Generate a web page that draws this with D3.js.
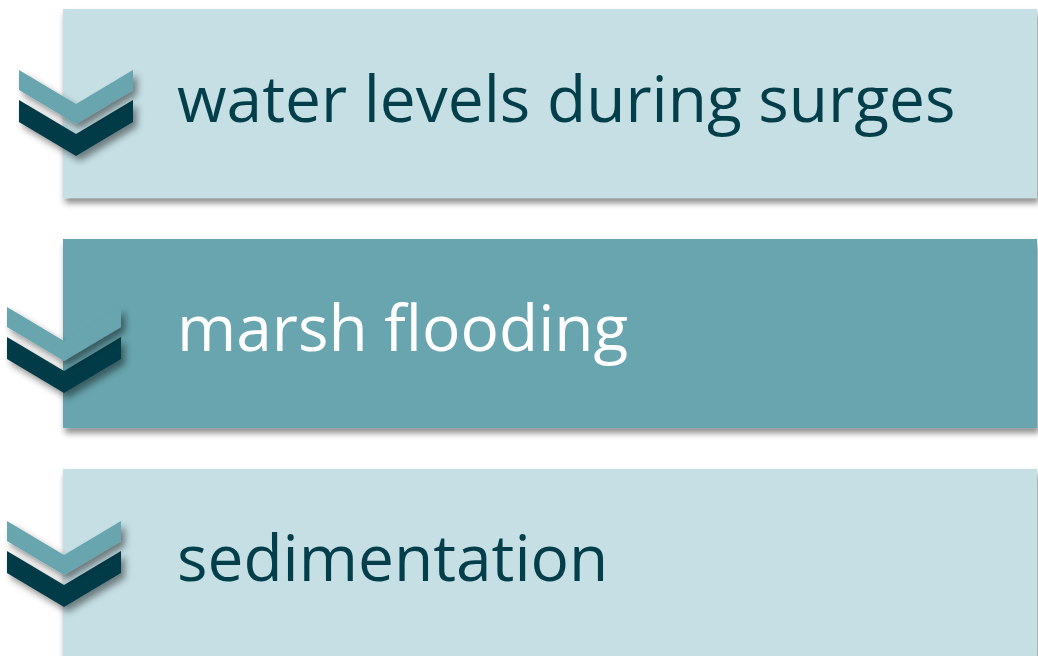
<!DOCTYPE html>
<html>
<head>
<meta charset="utf-8">
<script src="https://cdn.jsdelivr.net/npm/d3@7"></script>
<style>
  html, body { margin: 0; padding: 0; background: #fff; }
  svg { display: block; }
</style>
</head>
<body>
<svg id="chart"></svg>
<script>
'use strict';

// steps of the diagram, top to bottom
const labels = ['water levels during surges', 'marsh flooding', 'sedimentation'];
const boxFills = ['#c5dfe5', '#67a5ae', '#c5dfe5'];
const textFills = ['#033f4a', '#ffffff', '#033f4a'];

const CHEVRON_LIGHT = '#67a5ae';
const CHEVRON_DARK = '#033b46';

const width = 1038, height = 656;
const boxLeft = 63, boxRight = 1037;
// small per-row nudges of the chevron marker (x, y from box top)
const chevronNudge = [[19, 61], [7, 68], [7, 52]];

const svg = d3.select('#chart').attr('width', width).attr('height', height);

const defs = svg.append('defs');
defs.append('filter')
  .attr('id', 'boxShadow')
  .attr('x', '-5%').attr('y', '-10%')
  .attr('width', '110%').attr('height', '130%')
  .append('feDropShadow')
  .attr('dx', 2).attr('dy', 5)
  .attr('stdDeviation', 3)
  .attr('flood-color', '#000')
  .attr('flood-opacity', 0.45);

defs.append('filter')
  .attr('id', 'chevShadow')
  .attr('x', '-20%').attr('y', '-20%')
  .attr('width', '150%').attr('height', '160%')
  .append('feDropShadow')
  .attr('dx', 4).attr('dy', 5)
  .attr('stdDeviation', 3.5)
  .attr('flood-color', '#000')
  .attr('flood-opacity', 0.45);

const y = d3.scaleBand()
  .domain(d3.range(labels.length))
  .range([9, 658])
  .paddingInner(0.178)
  .paddingOuter(0);

const rows = svg.selectAll('g.row')
  .data(labels)
  .enter()
  .append('g')
  .attr('class', 'row')
  .attr('transform', (d, i) => `translate(0,${y(i)})`);

rows.append('rect')
  .attr('x', boxLeft)
  .attr('y', 0)
  .attr('width', boxRight - boxLeft)
  .attr('height', y.bandwidth())
  .attr('fill', (d, i) => boxFills[i])
  .attr('filter', 'url(#boxShadow)');

rows.append('text')
  .attr('x', 177)
  .attr('y', y.bandwidth() / 2 + 18)
  .attr('font-family', '"Open Sans", sans-serif')
  .attr('font-size', 64)
  .attr('fill', (d, i) => textFills[i])
  .text((d) => d);

// chevron marker: two stacked arrow shapes
const cw = 114, dip = 34;
const chevron = (top, thick) => d3.line()([
  [0, top], [cw / 2, top + dip], [cw, top],
  [cw, top + thick], [cw / 2, top + dip + thick], [0, top + thick]
]) + 'Z';

const chev = rows.append('g')
  .attr('transform', (d, i) => `translate(${chevronNudge[i][0]},${chevronNudge[i][1]})`);

chev.append('path')
  .attr('d', chevron(30, 22))
  .attr('fill', CHEVRON_DARK)
  .attr('filter', 'url(#chevShadow)');

chev.append('path')
  .attr('d', chevron(0, 20))
  .attr('fill', CHEVRON_LIGHT)
  .attr('filter', 'url(#chevShadow)');
</script>
</body>
</html>
